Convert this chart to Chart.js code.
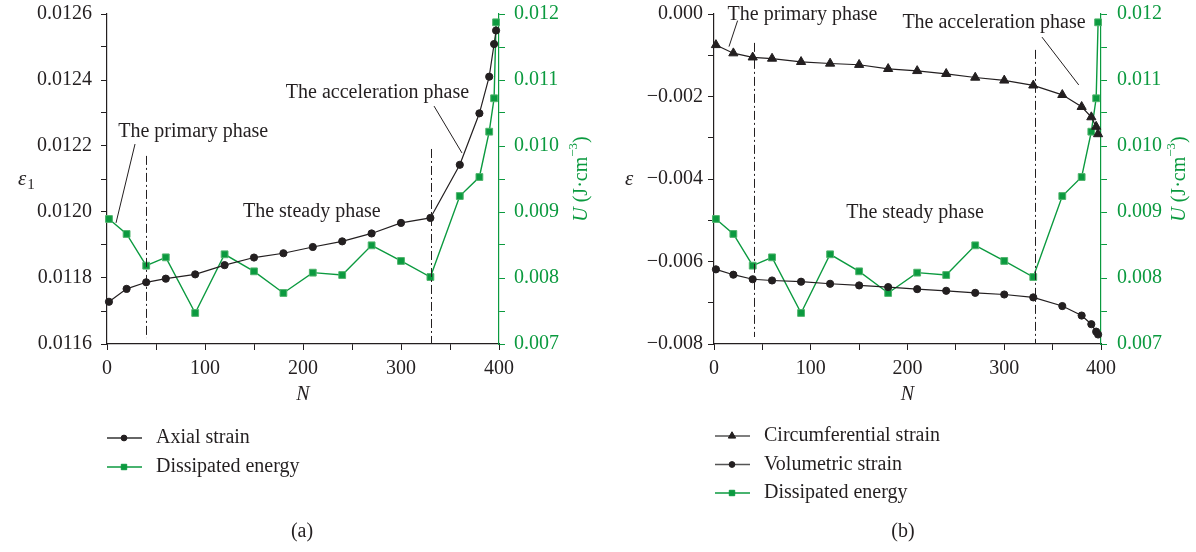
<!DOCTYPE html>
<html>
<head>
<meta charset="utf-8">
<script src="https://cdn.jsdelivr.net/npm/chart.js@4.4.0/dist/chart.umd.min.js"></script>
<style>
  body { margin: 0; background: #fff; width: 1196px; height: 552px; position: relative; overflow: hidden; }
  .panel { position: absolute; top: 0; width: 598px; height: 552px; }
</style>
</head>
<body>
<div class="panel" style="left:0"><canvas id="chartA"></canvas></div>
<div class="panel" style="left:598px"><canvas id="chartB"></canvas></div>
<script>
// loading cycles N
const cycles = [2, 20, 40, 60, 90, 120, 150, 180, 210, 240, 270, 300, 330, 360, 380, 390, 395, 397];

// panel (a)
const axialStrain = [0.011728, 0.011767, 0.011787, 0.011798, 0.011811, 0.011839, 0.011862, 0.011875, 0.011894,
  0.011911, 0.011935, 0.011967, 0.011982, 0.012143, 0.012299, 0.01241, 0.012509, 0.01255];
// dissipated energy U (J·cm^-3), same in both panels
const energy = [0.008894, 0.008667, 0.008187, 0.008313, 0.00747, 0.008359, 0.008101, 0.007773, 0.008081,
  0.008045, 0.008495, 0.008258, 0.008015, 0.009242, 0.00953, 0.010217, 0.010723, 0.011874];

// panel (b)
const circStrain = [-0.00075, -0.00095, -0.00105, -0.00108, -0.00116, -0.0012, -0.00123, -0.00133, -0.00138,
  -0.00145, -0.00154, -0.00161, -0.00173, -0.00196, -0.00225, -0.0025, -0.00273, -0.00291];
const volStrain = [-0.00619, -0.00632, -0.00643, -0.00646, -0.00649, -0.00654, -0.00658, -0.00662, -0.00667,
  -0.00671, -0.00676, -0.0068, -0.00687, -0.00708, -0.00731, -0.00752, -0.0077, -0.00777];

const FONT = '"Liberation Serif", "Times New Roman", serif';
const INK = '#231f20';
const GREEN = '#0b9a3f';

function pts(ys) {
  return cycles.map((n, i) => ({ x: n, y: ys[i] }));
}

function signed(v, digits) {
  const s = Math.abs(v).toFixed(digits);
  return v < -1e-12 ? '\u2212' + s : s;
}

// phase markers, leader lines, axis titles, legend and caption
const panelPlugin = {
  id: 'panel',
  afterDraw(chart, args, o) {
    const ctx = chart.ctx;
    const x = chart.scales.x, y = chart.scales.y;
    const area = chart.chartArea;
    ctx.save();

    ctx.strokeStyle = INK;
    ctx.lineWidth = 1;
    ctx.setLineDash([9, 3, 2, 3]);
    o.bounds.forEach(b => {
      const px = Math.round(x.getPixelForValue(b.n)) + 0.5;
      ctx.beginPath();
      ctx.moveTo(px, y.getPixelForValue(b.from));
      ctx.lineTo(px, y.getPixelForValue(b.to));
      ctx.stroke();
    });
    ctx.setLineDash([]);

    o.leaders.forEach(l => {
      ctx.beginPath();
      ctx.moveTo(x.getPixelForValue(l.n1), y.getPixelForValue(l.v1));
      ctx.lineTo(x.getPixelForValue(l.n2), y.getPixelForValue(l.v2));
      ctx.stroke();
    });

    ctx.font = `20px ${FONT}`;
    ctx.fillStyle = INK;
    ctx.textAlign = 'center';
    ctx.textBaseline = 'middle';
    o.notes.forEach(t => ctx.fillText(t.text, x.getPixelForValue(t.n), y.getPixelForValue(t.v)));

    // left title: epsilon (with optional subscript)
    const midY = (area.top + area.bottom) / 2;
    const ex = area.left - 89;
    ctx.textAlign = 'left';
    ctx.font = `italic 21px ${FONT}`;
    ctx.fillText('\u03b5', ex, midY);
    if (o.epsSub) {
      const w = ctx.measureText('\u03b5').width;
      ctx.font = `15px ${FONT}`;
      ctx.fillText(o.epsSub, ex + w + 1, midY + 6);
    }

    // right title: U (J·cm^-3), rotated
    ctx.save();
    ctx.translate(o.uTitleX, midY);
    ctx.rotate(-Math.PI / 2);
    ctx.fillStyle = GREEN;
    const parts = [
      { t: 'U', f: `italic 20px ${FONT}`, dy: 0 },
      { t: ' (J\u00b7cm', f: `20px ${FONT}`, dy: 0 },
      { t: '\u22123', f: `13px ${FONT}`, dy: -8 },
      { t: ')', f: `20px ${FONT}`, dy: 0 }
    ];
    let total = 0;
    parts.forEach(p => { ctx.font = p.f; p.w = ctx.measureText(p.t).width; total += p.w; });
    let cx = -total / 2;
    parts.forEach(p => { ctx.font = p.f; ctx.fillText(p.t, cx, p.dy); cx += p.w; });
    ctx.restore();

    // legend
    chart.data.datasets.forEach((ds, i) => {
      const ly = o.legend.y + i * o.legend.gap;
      const lx = o.legend.x;
      ctx.strokeStyle = ds.legendLine;
      ctx.lineWidth = 1.5;
      ctx.beginPath();
      ctx.moveTo(lx, ly);
      ctx.lineTo(lx + 35, ly);
      ctx.stroke();
      ctx.fillStyle = ds.pointBackgroundColor;
      ctx.strokeStyle = ds.pointBackgroundColor;
      ctx.lineWidth = 1;
      Chart.helpers.drawPoint(ctx, { pointStyle: ds.pointStyle, radius: ds.pointRadius * 0.8, rotation: 0, borderWidth: 1 }, lx + 17, ly);
      ctx.fillStyle = INK;
      ctx.font = `20px ${FONT}`;
      ctx.textAlign = 'left';
      ctx.fillText(ds.label, lx + 49, ly);
    });

    ctx.textAlign = 'center';
    ctx.fillText(o.caption, o.captionX, 532);
    ctx.restore();
  }
};

function xScale() {
  return {
    type: 'linear', min: 0, max: 400,
    border: { color: INK, width: 1.2 },
    grid: { drawOnChartArea: false, tickLength: 6, color: INK },
    ticks: {
      stepSize: 50, autoSkip: false, maxRotation: 0, padding: 7,
      color: INK, font: { family: FONT, size: 20 },
      callback: v => (v % 100 === 0 ? v : '')
    },
    title: { display: true, text: 'N', color: INK, font: { family: FONT, size: 20, style: 'italic' }, padding: { top: 4, bottom: 1 } },
    afterFit(s) { s.height = 64; s.paddingLeft = 0; s.paddingRight = 0; }
  };
}

function energyScale(width, pad) {
  return {
    type: 'linear', position: 'right', min: 0.007, max: 0.012,
    border: { color: GREEN, width: 1.2 },
    grid: { drawOnChartArea: false, tickLength: 6, color: GREEN },
    ticks: {
      stepSize: 0.0005, autoSkip: false, padding: pad,
      color: GREEN, font: { family: FONT, size: 20 },
      callback: v => (Math.round(v * 1e4) % 10 === 0 ? v.toFixed(3) : '')
    },
    afterFit(s) { s.width = width; s.paddingTop = 0; s.paddingBottom = 0; }
  };
}

function energySet() {
  return {
    label: 'Dissipated energy', data: pts(energy), yAxisID: 'y2',
    borderColor: GREEN, borderWidth: 1.4, legendLine: GREEN,
    pointStyle: 'rect', pointRadius: 4.8, pointBackgroundColor: GREEN,
    pointBorderColor: '#4fb46c', pointBorderWidth: 1, clip: false
  };
}

const common = {
  responsive: true,
  maintainAspectRatio: false,
  animation: false,
  layout: { padding: { top: 14, bottom: 144, left: 0, right: 0 } },
  elements: { line: { tension: 0 } }
};

new Chart(document.getElementById('chartA'), {
  type: 'line',
  data: {
    datasets: [
      {
        label: 'Axial strain', data: pts(axialStrain), yAxisID: 'y',
        borderColor: INK, borderWidth: 1.2, legendLine: '#333',
        pointStyle: 'circle', pointRadius: 3.6, pointBackgroundColor: INK,
        pointBorderColor: INK, pointBorderWidth: 1, clip: false
      },
      energySet()
    ]
  },
  options: Object.assign({}, common, {
    scales: {
      x: xScale(),
      y: {
        type: 'linear', min: 0.0116, max: 0.0126,
        border: { color: INK, width: 1.2 },
        grid: { drawOnChartArea: false, tickLength: 6, color: INK },
        ticks: {
          stepSize: 0.0001, autoSkip: false, padding: 9,
          color: INK, font: { family: FONT, size: 20 },
          callback: v => (Math.round(v * 1e5) % 20 === 0 ? v.toFixed(4) : '')
        },
        afterFit(s) { s.width = 107; s.paddingTop = 0; s.paddingBottom = 0; }
      },
      y2: energyScale(99, 9)
    },
    plugins: {
      legend: { display: false },
      tooltip: { enabled: false },
      panel: {
        bounds: [{ n: 40, from: 0.01217, to: 0.011618 }, { n: 331, from: 0.012191, to: 0.011603 }],
        leaders: [
          { n1: 28.6, v1: 0.012206, n2: 9.2, v2: 0.011967 },
          { n1: 333.7, v1: 0.012321, n2: 362.2, v2: 0.012179 }
        ],
        notes: [
          { text: 'The primary phase', n: 88, v: 0.012242 },
          { text: 'The acceleration phase', n: 276, v: 0.012361 },
          { text: 'The steady phase', n: 209, v: 0.0120 }
        ],
        epsSub: '1',
        uTitleX: 582,
        legend: { x: 107, y: 438, gap: 29 },
        caption: '(a)', captionX: 302
      }
    }
  }),
  plugins: [panelPlugin]
});

new Chart(document.getElementById('chartB'), {
  type: 'line',
  data: {
    datasets: [
      {
        label: 'Circumferential strain', data: pts(circStrain), yAxisID: 'y',
        borderColor: INK, borderWidth: 1.2, legendLine: '#555',
        pointStyle: 'triangle', pointRadius: 5.3, pointBackgroundColor: INK,
        pointBorderColor: INK, pointBorderWidth: 1, clip: false
      },
      {
        label: 'Volumetric strain', data: pts(volStrain), yAxisID: 'y',
        borderColor: INK, borderWidth: 1.2, legendLine: '#555',
        pointStyle: 'circle', pointRadius: 3.6, pointBackgroundColor: INK,
        pointBorderColor: INK, pointBorderWidth: 1, clip: false
      },
      energySet()
    ]
  },
  options: Object.assign({}, common, {
    scales: {
      x: xScale(),
      y: {
        type: 'linear', min: -0.008, max: 0,
        border: { color: INK, width: 1.2 },
        grid: { drawOnChartArea: false, tickLength: 6, color: INK },
        ticks: {
          stepSize: 0.001, autoSkip: false, padding: 5,
          color: INK, font: { family: FONT, size: 20 },
          callback: v => (Math.round(v * 1e3) % 2 === 0 ? signed(v, 3) : '')
        },
        afterFit(s) { s.width = 116; s.paddingTop = 0; s.paddingBottom = 0; }
      },
      y2: energyScale(95, 10)
    },
    plugins: {
      legend: { display: false },
      tooltip: { enabled: false },
      panel: {
        bounds: [{ n: 41, from: -0.0007, to: -0.00783 }, { n: 332, from: -0.00087, to: -0.00798 }],
        leaders: [
          { n1: 24.4, v1: -0.00016, n2: 15.5, v2: -0.00079 },
          { n1: 339, v1: -0.00056, n2: 377, v2: -0.00172 }
        ],
        notes: [
          { text: 'The primary phase', n: 91.5, v: -0.00002 },
          { text: 'The acceleration phase', n: 289.4, v: -0.00022 },
          { text: 'The steady phase', n: 207.8, v: -0.00482 }
        ],
        epsSub: '',
        uTitleX: 582,
        legend: { x: 117, y: 436, gap: 28.5 },
        caption: '(b)', captionX: 305
      }
    }
  }),
  plugins: [panelPlugin]
});
</script>
</body>
</html>
